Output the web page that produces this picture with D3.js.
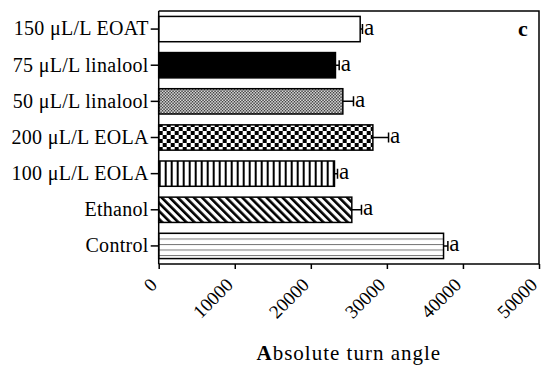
<!DOCTYPE html>
<html>
<head>
<meta charset="utf-8">
<script src="https://cdn.jsdelivr.net/npm/d3@7"></script>
<style>
  body { margin: 0; background: #fff; }
  text { font-family: "Liberation Serif", "Times New Roman", serif; fill: #000; }
</style>
</head>
<body>
<svg id="viz" width="545" height="367"></svg>
<script>
(function () {
  "use strict";

  // data (top to bottom)
  const categories = ["150 \u03bcL/L EOAT", "75 \u03bcL/L linalool", "50 \u03bcL/L linalool",
    "200 \u03bcL/L EOLA", "100 \u03bcL/L EOLA", "Ethanol", "Control"];
  const means = [26490, 23240, 24210, 28160, 23110, 25390, 37450];
  const errors = [300, 490, 1400, 2060, 400, 1270, 570];
  const letters = ["a", "a", "a", "a", "a", "a", "a"];
  const fills = ["white", "black", "fine", "checker", "vstripe", "diag", "hline"];
  const xTicks = [0, 10000, 20000, 30000, 40000, 50000];

  /*
  | Layout
  */
  let margin = { top: 11, left: 158.7, right: 6, bottom: 103 };
  let width = 545 - margin.left - margin.right;
  let height = 367 - margin.top - margin.bottom;

  let svg = d3.select("#viz");

  /*
  | Patterns
  */
  let defs = svg.append("defs");

  let p = defs.append("pattern").attr("id", "fine")
    .attr("patternUnits", "userSpaceOnUse").attr("width", 3).attr("height", 3);
  p.append("rect").attr("width", 3).attr("height", 3).attr("fill", "#fff");
  p.append("rect").attr("width", 1.5).attr("height", 1.5).attr("fill", "#222");
  p.append("rect").attr("x", 1.5).attr("y", 1.5).attr("width", 1.5).attr("height", 1.5).attr("fill", "#222");

  p = defs.append("pattern").attr("id", "checker")
    .attr("patternUnits", "userSpaceOnUse").attr("width", 8).attr("height", 8);
  p.append("rect").attr("width", 8).attr("height", 8).attr("fill", "#fff");
  p.append("rect").attr("width", 4).attr("height", 4).attr("fill", "#000");
  p.append("rect").attr("x", 4).attr("y", 4).attr("width", 4).attr("height", 4).attr("fill", "#000");

  p = defs.append("pattern").attr("id", "vstripe")
    .attr("patternUnits", "userSpaceOnUse").attr("width", 6).attr("height", 6);
  p.append("rect").attr("width", 6).attr("height", 6).attr("fill", "#fff");
  p.append("rect").attr("x", 0).attr("width", 2).attr("height", 6).attr("fill", "#000");

  p = defs.append("pattern").attr("id", "diag")
    .attr("patternUnits", "userSpaceOnUse").attr("width", 5.7).attr("height", 8)
    .attr("patternTransform", "rotate(-45)");
  p.append("rect").attr("width", 5.7).attr("height", 8).attr("fill", "#fff");
  p.append("rect").attr("width", 2.6).attr("height", 8).attr("fill", "#000");

  p = defs.append("pattern").attr("id", "hline")
    .attr("patternUnits", "userSpaceOnUse").attr("width", 6).attr("height", 5.5)
    .attr("y", 2);
  p.append("rect").attr("width", 6).attr("height", 5.5).attr("fill", "#fff");
  p.append("rect").attr("y", 0).attr("width", 6).attr("height", 1).attr("fill", "#777");

  function fillOf(f) {
    if (f === "white") return "#fff";
    if (f === "black") return "#000";
    return `url(#${f})`;
  }

  /*
  | Scales
  */
  let x = d3.scaleLinear().domain([0, 50000]).range([0, width]);
  let y = d3.scaleBand().domain(categories).range([0, height]).paddingInner(0.3).paddingOuter(0.15);

  let g = svg.append("g").attr("transform", `translate(${margin.left},${margin.top})`);

  // frame top and right
  g.append("path")
    .attr("d", `M0,0H${width}V${height}`)
    .attr("fill", "none").attr("stroke", "#000").attr("stroke-width", 1.5);

  /*
  | Bars
  */
  let rows = g.selectAll(".row").data(categories).enter().append("g").attr("class", "row");

  rows.append("rect")
    .attr("x", 0)
    .attr("y", d => y(d))
    .attr("width", (d, i) => x(means[i]))
    .attr("height", y.bandwidth())
    .attr("fill", (d, i) => fillOf(fills[i]))
    .attr("stroke", "#000").attr("stroke-width", 1.5);

  // error bars
  rows.append("path")
    .attr("d", (d, i) => {
      let cy = y(d) + y.bandwidth() / 2;
      let x0 = x(means[i]), x1 = x(means[i] + errors[i]);
      return `M${x0},${cy}H${x1}M${x1},${cy - 5}V${cy + 5}`;
    })
    .attr("fill", "none").attr("stroke", "#000").attr("stroke-width", 1.5);

  rows.append("text")
    .attr("x", (d, i) => x(means[i] + errors[i]) + 1.5)
    .attr("y", d => y(d) + y.bandwidth() / 2 + 5.5)
    .style("font-size", "23px")
    .text((d, i) => letters[i]);

  /*
  | Axes
  */
  let yAxis = g.append("g").call(d3.axisLeft(y).tickSize(8).tickPadding(2));
  yAxis.select(".domain").attr("stroke-width", 1.5).attr("d", `M0,0V${height}`);
  yAxis.selectAll(".tick line").attr("stroke-width", 1.5);
  yAxis.selectAll(".tick text")
    .attr("font-family", "Liberation Serif, serif").attr("font-size", 20).attr("fill", "#000")
    .attr("letter-spacing", 0.3);

  let xAxis = g.append("g").attr("transform", `translate(0,${height})`)
    .call(d3.axisBottom(x).tickValues(xTicks).tickFormat(d3.format("d")).tickSize(5));
  xAxis.select(".domain").attr("stroke-width", 1.5).attr("d", `M0,0H${width}`);
  xAxis.selectAll(".tick line").attr("stroke-width", 1.5);
  xAxis.selectAll(".tick text")
    .attr("font-family", "Liberation Serif, serif").attr("font-size", 19).attr("fill", "#000")
    .attr("text-anchor", "end")
    .attr("transform", "translate(-1,22) rotate(-45)")
    .attr("dy", 0).attr("y", 0).attr("x", 0);

  // axis title
  let title = svg.append("text")
    .attr("x", margin.left + width / 2)
    .attr("y", 360)
    .attr("text-anchor", "middle")
    .attr("font-size", 21)
    .attr("letter-spacing", 1);
  title.append("tspan").attr("font-weight", "bold").text("A");
  title.append("tspan").text("bsolute turn angle");

  // panel letter
  svg.append("text")
    .attr("x", 523).attr("y", 36)
    .attr("text-anchor", "middle")
    .attr("font-size", 22).attr("font-weight", "bold")
    .text("c");
})();
</script>
</body>
</html>
